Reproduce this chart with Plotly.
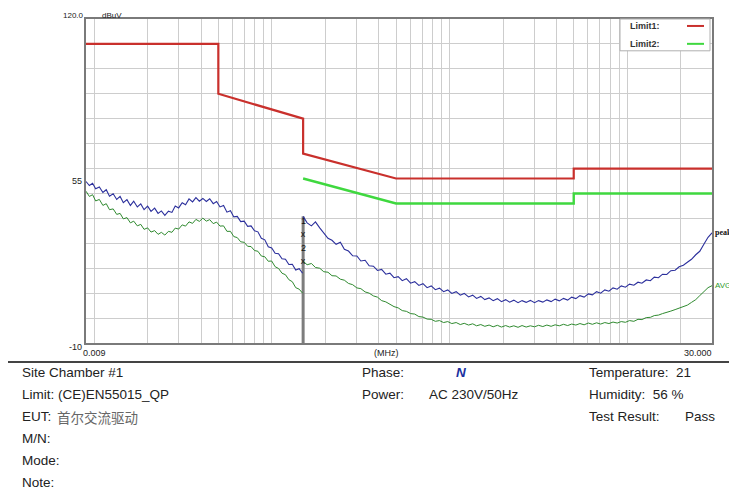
import math
import plotly.graph_objects as go

# ---------------- data ----------------
seg1_freq = [0.0090, 0.0094, 0.0098, 0.0102, 0.0107, 0.0112, 0.0117, 0.0122, 0.0128, 0.0134,
             0.0140, 0.0146, 0.0153, 0.0160, 0.0167, 0.0175, 0.0183, 0.0191, 0.0200, 0.0209,
             0.0219, 0.0229, 0.0239, 0.0250, 0.0262, 0.0274, 0.0286, 0.0299, 0.0313, 0.0327,
             0.0342, 0.0358, 0.0374, 0.0391, 0.0409, 0.0428, 0.0447, 0.0468, 0.0489, 0.0511,
             0.0535, 0.0559, 0.0585, 0.0611, 0.0639, 0.0668, 0.0699, 0.0731, 0.0764, 0.0799,
             0.0835, 0.0873, 0.0913, 0.0955, 0.0998, 0.1044, 0.1091, 0.1141, 0.1193, 0.1247,
             0.1304, 0.1363, 0.1425, 0.1490]
seg1_peak = [54.8, 53.2, 54.1, 51.9, 52.6, 50.4, 51.5, 48.9, 49.9, 47.6,
             48.8, 46.3, 47.5, 45.2, 46.9, 44.6, 45.8, 43.5, 44.9, 42.8,
             44.1, 42.0, 43.0, 41.2, 42.9, 42.4, 45.0, 44.2, 46.3, 45.5,
             47.8, 46.6, 48.3, 46.9, 48.0, 46.8, 47.9, 45.9, 46.8, 44.6,
             45.2, 42.5, 43.1, 40.6, 40.8, 38.7, 38.9, 36.8, 37.0, 35.0,
             34.6, 32.0, 31.4, 28.6, 28.1, 26.0, 25.8, 23.8, 23.6, 21.5,
             21.6, 19.3, 19.8, 18.0]
seg1_avg = [50.9, 48.8, 49.5, 47.0, 47.6, 45.2, 45.9, 43.5, 43.8, 41.6,
            42.0, 39.8, 40.3, 38.2, 38.9, 37.0, 37.6, 35.6, 36.2, 34.5,
            35.1, 33.6, 34.4, 33.3, 34.8, 34.4, 36.1, 35.7, 37.4, 36.9,
            38.6, 38.0, 39.6, 38.8, 40.1, 38.9, 39.5, 37.9, 38.5, 36.9,
            37.0, 34.8, 34.8, 32.7, 32.3, 30.6, 30.4, 28.8, 28.7, 27.1,
            26.8, 24.9, 24.6, 22.8, 22.9, 20.6, 19.9, 18.0, 17.4, 15.4,
            14.6, 12.2, 11.6, 10.0]

seg2_freq = [0.150, 0.158, 0.167, 0.176, 0.186, 0.196, 0.207, 0.218, 0.230, 0.243,
             0.256, 0.270, 0.285, 0.301, 0.317, 0.335, 0.353, 0.373, 0.393, 0.415,
             0.438, 0.462, 0.487, 0.514, 0.542, 0.572, 0.604, 0.637, 0.672, 0.709,
             0.748, 0.789, 0.832, 0.878, 0.926, 0.977, 1.03, 1.09, 1.15, 1.21,
             1.28, 1.35, 1.42, 1.50, 1.58, 1.67, 1.76, 1.86, 1.96, 2.07,
             2.18, 2.30, 2.43, 2.56, 2.70, 2.85, 3.01, 3.17, 3.35, 3.53,
             3.73, 3.93, 4.15, 4.38, 4.62, 4.87, 5.14, 5.42, 5.72, 6.04,
             6.37, 6.72, 7.09, 7.48, 7.89, 8.32, 8.78, 9.26, 9.77, 10.3,
             10.9, 11.5, 12.1, 12.8, 13.5, 14.2, 15.0, 15.8, 16.7, 17.6,
             18.6, 19.6, 20.7, 21.8, 23.0, 24.3, 25.6, 27.0, 28.5, 30.0]
seg2_peak = [40.8, 38.2, 37.0, 38.6, 36.2, 34.3, 32.0, 31.2, 29.6, 30.4,
             27.6, 26.9, 25.0, 24.9, 22.9, 23.2, 21.0, 20.8, 19.1, 19.5,
             17.6, 18.0, 16.2, 16.6, 15.0, 15.8, 14.0, 14.6, 13.1, 13.8,
             12.2, 12.9, 11.4, 12.0, 10.6, 11.3, 9.9, 10.6, 9.2, 9.9,
             8.5, 9.2, 7.9, 8.7, 7.4, 8.1, 7.0, 7.8, 6.6, 7.4,
             6.4, 7.2, 6.2, 7.0, 6.3, 7.1, 6.2, 7.0, 6.4, 7.3,
             6.6, 7.6, 6.9, 7.9, 7.2, 8.4, 7.8, 9.0, 8.4, 9.7,
             9.3, 10.6, 10.0, 11.3, 10.8, 12.1, 11.6, 12.9, 12.4, 13.6,
             13.2, 14.4, 14.0, 15.3, 15.0, 16.4, 16.2, 17.6, 17.5, 19.0,
             19.2, 20.6, 21.2, 22.4, 23.6, 25.4, 26.8, 29.6, 32.4, 34.2]
seg2_avg = [22.8, 21.4, 21.9, 20.3, 20.0, 18.6, 18.4, 17.0, 16.9, 15.6,
            15.2, 13.9, 13.4, 12.1, 11.8, 10.5, 10.0, 8.9, 8.4, 7.0,
            6.5, 5.6, 4.6, 4.1, 3.0, 2.7, 1.8, 1.6, 0.6, 0.4,
            -0.4, -0.5, -1.3, -1.0, -1.8, -1.4, -2.2, -1.8, -2.6, -2.1,
            -2.8, -2.3, -3.1, -2.6, -3.3, -2.8, -3.5, -2.9, -3.6, -3.0,
            -3.6, -3.1, -3.7, -3.0, -3.6, -3.1, -3.5, -2.9, -3.4, -2.8,
            -3.3, -2.7, -3.1, -2.5, -3.0, -2.4, -2.8, -2.2, -2.7, -2.0,
            -2.5, -1.9, -2.4, -1.8, -2.2, -1.6, -2.0, -1.4, -1.7, -1.0,
            -1.3, -0.5, -0.6, 0.2, 0.3, 1.0, 1.2, 1.8, 2.2, 2.8,
            3.4, 3.9, 4.6, 5.2, 6.3, 7.4, 9.0, 10.6, 12.2, 13.0]

limit1_freq = [0.009, 0.05, 0.05, 0.15, 0.15, 0.5, 5.0, 5.0, 30.0]
limit1_level = [110, 110, 90, 80, 66, 56, 56, 60, 60]
limit2_freq = [0.15, 0.5, 5.0, 5.0, 30.0]
limit2_level = [56, 46, 46, 50, 50]

marker_freq = 0.15
marker_levels = [33.3, 22.5]
marker_labels = ["1", "2"]

grid_freqs = [m * d for d in (0.01, 0.1, 1.0, 10.0) for m in range(1, 10) if m * d <= 30]
grid_levels = list(range(-10, 121, 10))

y_labels = {"120.0": 120, "55": 55, "-10": -10}

# ---------------- figure ----------------
PAGE_OFF = 8            # browser body margin
W, H = 737 - PAGE_OFF, 491 - PAGE_OFF
L, R, T, B = 86, 712, 17, 343   # plot area in window pixels
FONT = "Liberation Sans, Arial, sans-serif"


def P(x, y):
    return (x - L) / (R - L), (B - y) / (B - T)


peak_x = seg1_freq + [None] + seg2_freq
peak_y = seg1_peak + [None] + seg2_peak
avg_x = seg1_freq + [None] + seg2_freq
avg_y = seg1_avg + [None] + seg2_avg

fig = go.Figure()

fig.add_trace(go.Scatter(x=[marker_freq, marker_freq], y=[-10, seg2_peak[0]], mode="lines",
                         line=dict(color="#7d7d7d", width=3), hoverinfo="skip", showlegend=False))
fig.add_trace(go.Scatter(x=limit1_freq, y=limit1_level, mode="lines",
                         line=dict(color="#c9302c", width=2.2), showlegend=False))
fig.add_trace(go.Scatter(x=limit2_freq, y=limit2_level, mode="lines",
                         line=dict(color="#3fd83f", width=2.4), showlegend=False))
fig.add_trace(go.Scatter(x=peak_x, y=peak_y, mode="lines", connectgaps=False,
                         line=dict(color="#2b2f9c", width=1.1), showlegend=False))
fig.add_trace(go.Scatter(x=avg_x, y=avg_y, mode="lines", connectgaps=False,
                         line=dict(color="#2f8a2f", width=1.0), showlegend=False))

fig.add_trace(go.Scatter(x=[marker_freq] * len(marker_levels), y=marker_levels, mode="text",
                         text=["x"] * len(marker_levels),
                         textfont=dict(family=FONT, size=9, color="#111"), showlegend=False))
annotations = []
for lvl, lab in zip(marker_levels, marker_labels):
    annotations.append(dict(x=math.log10(marker_freq), y=lvl, xref="x", yref="y", text=lab,
                            showarrow=False, yshift=14,
                            font=dict(family=FONT, size=9, color="#111")))

fig.update_xaxes(type="log", range=[math.log10(0.009), math.log10(30)], tickvals=grid_freqs,
                 ticktext=[""] * len(grid_freqs), ticks="", showgrid=True,
                 gridcolor="#cdcdcd", gridwidth=1, showline=True, mirror=True,
                 linecolor="#7a7a7a", linewidth=1.5, zeroline=False)
fig.update_yaxes(range=[-10, 120], tickvals=grid_levels, ticktext=[""] * len(grid_levels),
                 ticks="", showgrid=True, gridcolor="#cdcdcd", gridwidth=1, showline=True,
                 mirror=True, linecolor="#7a7a7a", linewidth=1.5, zeroline=False)

small = dict(family=FONT, size=9, color="#222")

for txt, val in y_labels.items():
    if val == 120:
        annotations.append(dict(x=P(86, 0)[0], y=P(0, 13)[1], xref="paper", yref="paper",
                                text=txt, showarrow=False, xanchor="right", yanchor="middle",
                                font=dict(family=FONT, size=8, color="#222")))
    else:
        annotations.append(dict(x=P(84, 0)[0], y=val, xref="paper", yref="y", text=txt,
                                showarrow=False, xanchor="right", yanchor="middle", font=small,
                                yshift=-4 if val == -10 else 0))
annotations.append(dict(x=P(100, 0)[0], y=P(0, 13)[1], xref="paper", yref="paper", text="dBuV",
                        showarrow=False, xanchor="left", yanchor="middle",
                        font=dict(family=FONT, size=8, color="#222")))
for txt, px_ in (("0.009", 94), ("(MHz)", 386), ("30.000", 698)):
    annotations.append(dict(x=P(px_, 0)[0], y=P(0, 353)[1], xref="paper", yref="paper", text=txt,
                            showarrow=False, xanchor="center", yanchor="middle", font=small))

annotations.append(dict(x=1.0, y=seg2_peak[-1], xref="paper", yref="y", text="<b>peak</b>",
                        showarrow=False, xanchor="left", yanchor="middle", xshift=1,
                        font=dict(family="Liberation Serif, serif", size=8, color="#111")))
annotations.append(dict(x=1.0, y=seg2_avg[-1], xref="paper", yref="y", text="AVG",
                        showarrow=False, xanchor="left", yanchor="middle", xshift=1,
                        font=dict(family=FONT, size=8, color="#2f9a2f")))

shapes = []
lx0, ly0 = P(620, 17)
lx1, ly1 = P(710, 49)
shapes.append(dict(type="rect", xref="paper", yref="paper", x0=lx0, y0=ly1, x1=lx1, y1=ly0,
                   fillcolor="white", line=dict(color="#b0b0b0", width=1), layer="above"))
for name, col, yy in (("Limit1:", "#c9302c", 24), ("Limit2:", "#3fd83f", 42)):
    tx, ty = P(628, yy)
    annotations.append(dict(x=tx, y=ty, xref="paper", yref="paper", text="<b>%s</b>" % name,
                            showarrow=False, xanchor="left", yanchor="middle",
                            font=dict(family=FONT, size=9, color="#333")))
    a0, _ = P(687, yy)
    a1, _ = P(704, yy)
    shapes.append(dict(type="line", xref="paper", yref="paper", x0=a0, x1=a1, y0=ty, y1=ty,
                       line=dict(color=col, width=2), layer="above"))

s0, sy = P(6, 362)
s1, _ = P(733, 362)
shapes.append(dict(type="line", xref="paper", yref="paper", x0=s0, x1=s1, y0=sy, y1=sy,
                   line=dict(color="#444", width=2)))

info_font = dict(family=FONT, size=13.5, color="#222")
rows_left = [("Site Chamber #1", 373), ("Limit: (CE)EN55015_QP", 395), ("EUT:", 417),
             ("M/N:", 439), ("Mode:", 461), ("Note:", 483)]
for txt, yy in rows_left:
    ax, ay = P(20, yy)
    annotations.append(dict(x=ax, y=ay, xref="paper", yref="paper", text=txt, showarrow=False,
                            xanchor="left", yanchor="middle", font=info_font))
ax, ay = P(55, 417)
annotations.append(dict(x=ax, y=ay, xref="paper", yref="paper", text="首尔交流驱动",
                        showarrow=False, xanchor="left", yanchor="middle",
                        font=dict(family="Noto Sans CJK SC", size=13.5, color="#666")))
other = [("Phase:", 360, 373), ("Power:", 360, 395), ("AC 230V/50Hz", 427, 395),
         ("Temperature:  21", 587, 373), ("Humidity:  56 %", 587, 395),
         ("Test Result:", 587, 417), ("Pass", 683, 417)]
for txt, xx, yy in other:
    ax, ay = P(xx, yy)
    annotations.append(dict(x=ax, y=ay, xref="paper", yref="paper", text=txt, showarrow=False,
                            xanchor="left", yanchor="middle", font=info_font))
ax, ay = P(454, 373)
annotations.append(dict(x=ax, y=ay, xref="paper", yref="paper", text="<b><i>N</i></b>",
                        showarrow=False, xanchor="left", yanchor="middle",
                        font=dict(family=FONT, size=13.5, color="#1a2fa0")))

fig.update_layout(width=W, height=H,
                  margin=dict(l=L - PAGE_OFF, r=737 - R, t=T - PAGE_OFF, b=491 - B, pad=0),
                  paper_bgcolor="white", plot_bgcolor="white", showlegend=False,
                  annotations=annotations, shapes=shapes, font=dict(family=FONT))

fig.write_html("out.html")
